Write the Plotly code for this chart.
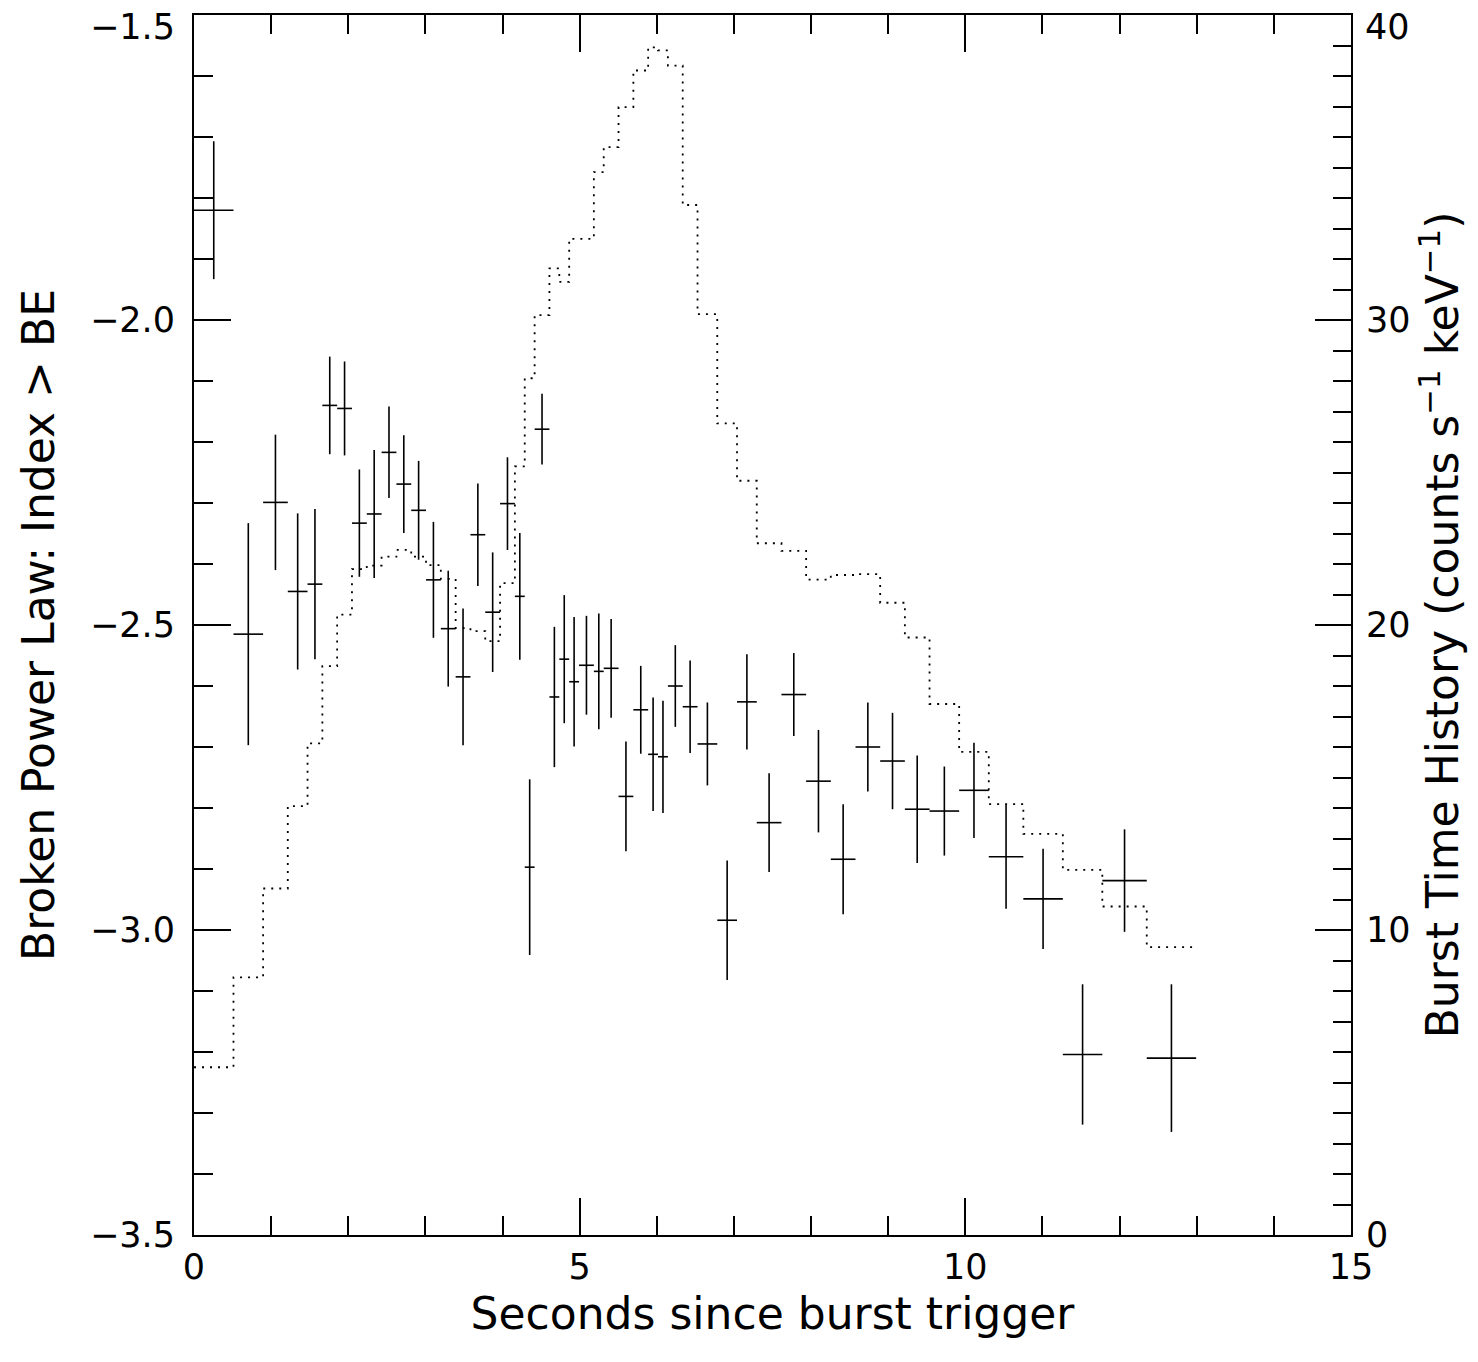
import plotly.graph_objects as go

# Time-bin edges (seconds since trigger)
t_edges = [0.000, 0.512, 0.896, 1.216, 1.472, 1.664, 1.856, 2.048, 2.240, 2.432,
           2.624, 2.816, 3.008, 3.200, 3.392, 3.584, 3.776, 3.968, 4.160, 4.288,
           4.416, 4.608, 4.736, 4.864, 4.992, 5.184, 5.312, 5.504, 5.696, 5.888,
           6.016, 6.144, 6.336, 6.528, 6.784, 7.040, 7.296, 7.616, 7.936, 8.256,
           8.576, 8.896, 9.216, 9.536, 9.920, 10.304, 10.752, 11.264, 11.776, 12.352,
           12.992]

# Broken power law high-energy index per bin
index_vals = [-1.820, -2.515, -2.299, -2.445, -2.433, -2.140, -2.145, -2.333, -2.318, -2.217,
              -2.269, -2.312, -2.426, -2.506, -2.585, -2.352, -2.479, -2.301, -2.453, -2.897,
              -2.179, -2.618, -2.556, -2.593, -2.566, -2.576, -2.571, -2.781, -2.639, -2.712,
              -2.716, -2.600, -2.634, -2.695, -2.984, -2.626, -2.824, -2.614, -2.756, -2.884,
              -2.700, -2.723, -2.802, -2.805, -2.771, -2.880, -2.949, -3.204, -2.919, -3.210]

index_errs = [0.113, 0.182, 0.111, 0.128, 0.123, 0.080, 0.077, 0.088, 0.105, 0.075,
              0.080, 0.081, 0.095, 0.095, 0.112, 0.084, 0.098, 0.076, 0.104, 0.144,
              0.058, 0.115, 0.105, 0.106, 0.081, 0.095, 0.081, 0.090, 0.072, 0.093,
              0.092, 0.067, 0.076, 0.068, 0.098, 0.078, 0.081, 0.068, 0.084, 0.090,
              0.073, 0.079, 0.088, 0.073, 0.078, 0.085, 0.082, 0.115, 0.084, 0.121]

# Burst time history (counts s^-1 keV^-1) per bin
rate_vals = [5.50, 8.45, 11.36, 14.06, 16.12, 18.65, 20.34, 21.83, 21.95, 22.24,
             22.46, 22.24, 21.96, 21.51, 19.90, 19.80, 19.47, 21.37, 25.20, 28.09,
             30.16, 31.69, 31.25, 32.66, 32.66, 34.85, 35.67, 36.98, 38.18, 38.94,
             38.84, 38.34, 33.77, 30.19, 26.61, 24.73, 22.68, 22.43, 21.49, 21.64,
             21.67, 20.73, 19.59, 17.41, 15.84, 14.13, 13.15, 11.97, 10.77, 9.44]

x_tickvals = [0, 5, 10, 15]
x_ticklabels = ["0", "5", "10", "15"]
y_tickvals = [-3.5, -3.0, -2.5, -2.0, -1.5]
y_ticklabels = ["−3.5", "−3.0", "−2.5", "−2.0", "−1.5"]
y2_tickvals = [0, 10, 20, 30, 40]
y2_ticklabels = ["0", "10", "20", "30", "40"]

centers = [(a + b) / 2 for a, b in zip(t_edges[:-1], t_edges[1:])]
halfw = [(b - a) / 2 for a, b in zip(t_edges[:-1], t_edges[1:])]

FONT = "DejaVu Sans"
TICKFONT = dict(family=FONT, size=35, color="black")
TITLEFONT = dict(family=FONT, size=44, color="black")

fig = go.Figure()

fig.add_trace(go.Scatter(
    x=t_edges, y=rate_vals + [rate_vals[-1]], yaxis="y2",
    mode="lines",
    line=dict(shape="hv", dash="2px,6px", width=1.8, color="black"),
    hoverinfo="skip", showlegend=False,
))

fig.add_trace(go.Scatter(
    x=centers, y=index_vals, mode="markers",
    marker=dict(size=2, color="rgba(0,0,0,0)"),
    error_x=dict(type="data", array=halfw, width=0, thickness=1.6, color="black"),
    error_y=dict(type="data", array=index_errs, width=0, thickness=1.6, color="black"),
    showlegend=False,
))

axis_common = dict(
    showline=True, linewidth=2, linecolor="black",
    showgrid=False, zeroline=False,
    ticks="inside", tickwidth=2, tickcolor="black",
    tickfont=TICKFONT,
)

fig.update_layout(
    width=1462, height=1346,
    margin=dict(l=186, r=119, t=5, b=119),
    paper_bgcolor="white", plot_bgcolor="white",
    showlegend=False,
    xaxis=dict(
        range=[0, 15], tickmode="array", tickvals=x_tickvals, ticktext=x_ticklabels,
        ticklen=37, mirror="ticks",
        minor=dict(ticks="inside", dtick=1, tick0=0, ticklen=19, tickwidth=1.5,
                   tickcolor="black", showgrid=False),
        title=dict(text="Seconds since burst trigger", font=TITLEFONT, standoff=12),
        ticklabelstandoff=0,
        **axis_common,
    ),
    yaxis=dict(
        range=[-3.5, -1.5], tickmode="array", tickvals=y_tickvals[:-1],
        ticktext=y_ticklabels[:-1], ticklen=37,
        minor=dict(ticks="inside", dtick=0.1, tick0=-3.5, ticklen=19, tickwidth=1.5,
                   tickcolor="black", showgrid=False),
        title=dict(text="Broken Power Law: Index > BE", font=TITLEFONT, standoff=22),
        ticklabelstandoff=10,
        **axis_common,
    ),
    yaxis2=dict(
        range=[0, 40], overlaying="y", side="right",
        tickmode="array", tickvals=y2_tickvals[:-1],
        ticktext=y2_ticklabels[:-1], ticklen=36,
        minor=dict(ticks="inside", dtick=1, tick0=0, ticklen=18, tickwidth=1.5,
                   tickcolor="black", showgrid=False),
        title=dict(text="Burst Time History (counts s<sup>−1</sup> keV<sup>−1</sup>)",
                   font=TITLEFONT, standoff=14),
        ticklabelstandoff=6,
        **axis_common,
    ),
)

# top-most tick labels, drawn slightly below their ticks as in the original
fig.add_annotation(text=y_ticklabels[-1], xref="paper", x=0, yref="y", y=y_tickvals[-1],
                   xanchor="right", yanchor="middle", xshift=-17, yshift=-12,
                   showarrow=False, font=TICKFONT)
fig.add_annotation(text=y2_ticklabels[-1], xref="paper", x=1, yref="y2", y=y2_tickvals[-1],
                   xanchor="left", yanchor="middle", xshift=12, yshift=-12,
                   showarrow=False, font=TICKFONT)

fig.write_html("out.html")
